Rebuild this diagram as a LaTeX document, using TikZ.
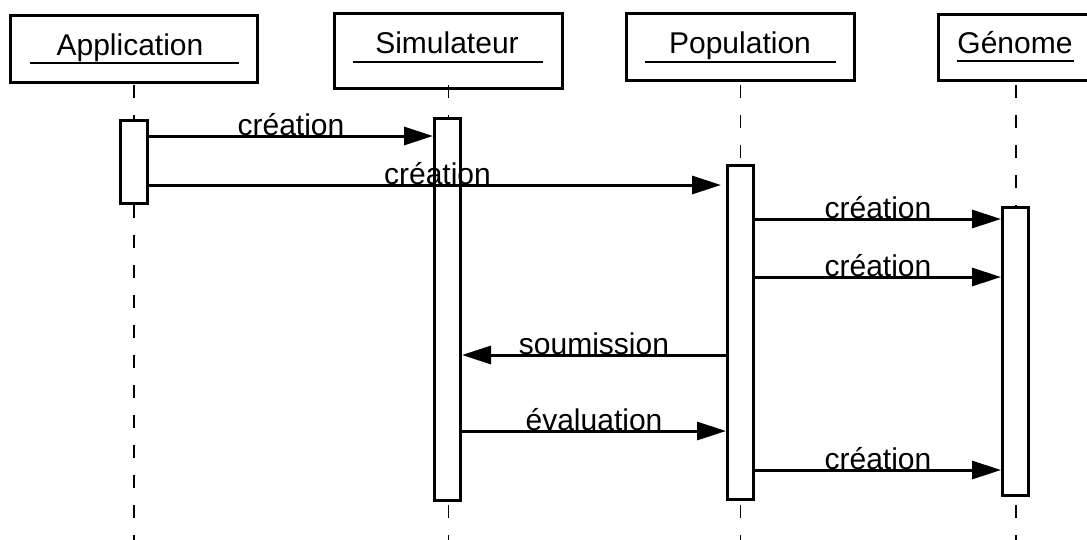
\documentclass[tikz,border=0pt]{standalone}
\usepackage{fontspec}
\setmainfont{Liberation Sans}
\usetikzlibrary{arrows.meta}
\begin{document}
\begin{tikzpicture}[x=1pt,y=-1pt,
  font=\fontsize{30pt}{36pt}\selectfont,
  objbox/.style={draw, line width=3pt, inner sep=0pt},
  namelbl/.style={anchor=base, inner sep=0pt},
  uline/.style={line width=2pt},
  lifeline/.style={line width=1.8pt, dash pattern=on 13pt off 17pt},
  actbar/.style={draw, fill=white, line width=3pt, inner sep=0pt, minimum width=26pt},
  msg/.style={line width=3pt, -{Triangle[length=29pt,width=18pt]}},
  msglbl/.style={midway, anchor=base, yshift=0.5pt, inner sep=0pt},
]
\useasboundingbox (0,0) rectangle (1087,539);
\fill[white] (0,0) rectangle (1087,539);
\clip (0,0) rectangle (1087,539);

% levels of the lifelines and of the messages
\coordinate (top) at (0,85);
\coordinate (bottom) at (0,545);
\coordinate (y1) at (0,136);
\coordinate (y2) at (0,185);
\coordinate (y3) at (0,219);
\coordinate (y4) at (0,277);
\coordinate (y5) at (0,355);
\coordinate (y6) at (0,431);
\coordinate (y7) at (0,470);

% object boxes
\node[objbox, minimum width=247pt, minimum height=67pt] (appbox) at (134,49) {};
\node[objbox, minimum width=228pt, minimum height=75pt] (simbox) at (448.5,51) {};
\node[objbox, minimum width=228pt, minimum height=67pt] (popbox) at (740.5,47) {};
\node[objbox, minimum width=155pt, minimum height=66pt] (genbox) at (1016,47.5) {};

% lifelines
\draw[lifeline] (appbox.south |- top) -- (appbox.south |- bottom);
\draw[lifeline] (simbox.south |- top) -- (simbox.south |- bottom);
\draw[lifeline] (popbox.south |- top) -- (popbox.south |- bottom);
\draw[lifeline] (genbox.south |- top) -- (genbox.south |- bottom);

% object names, underlined
\node[namelbl] (appname) at (130,55) {Application};
\node[namelbl] (simname) at (447,53) {Simulateur};
\node[namelbl] (popname) at (740,53) {Population};
\node[namelbl] (genname) at (1015,53) {Génome};
\draw[uline] (30,63) -- (239,63);
\draw[uline] (353,62) -- (543,62);
\draw[uline] (645,62) -- (836,62);
\draw[uline] (957,61) -- (1074,61);

% activation bars
\node[actbar, minimum width=27pt, minimum height=83pt] (appbar) at (134,162) {};
\node[actbar, minimum height=382pt] (simbar) at (447.5,309.5) {};
\node[actbar, minimum height=334pt] (popbar) at (740.5,332.5) {};
\node[actbar, minimum height=288pt] (genbar) at (1015.5,351.5) {};

% messages
\draw[msg] (appbar.east |- y1) -- (simbar.west |- y1) node[msglbl] {création};
\draw[msg, shorten >=5pt] (appbar.east |- y2) -- (popbar.west |- y2) node[msglbl] {création};
\draw[msg] (popbar.east |- y3) -- (genbar.west |- y3) node[msglbl] {création};
\draw[msg] (popbar.east |- y4) -- (genbar.west |- y4) node[msglbl] {création};
\draw[msg] (popbar.west |- y5) -- (simbar.east |- y5) node[msglbl] {soumission};
\draw[msg] (simbar.east |- y6) -- (popbar.west |- y6) node[msglbl] {évaluation};
\draw[msg] (popbar.east |- y7) -- (genbar.west |- y7) node[msglbl] {création};
\end{tikzpicture}
\end{document}
